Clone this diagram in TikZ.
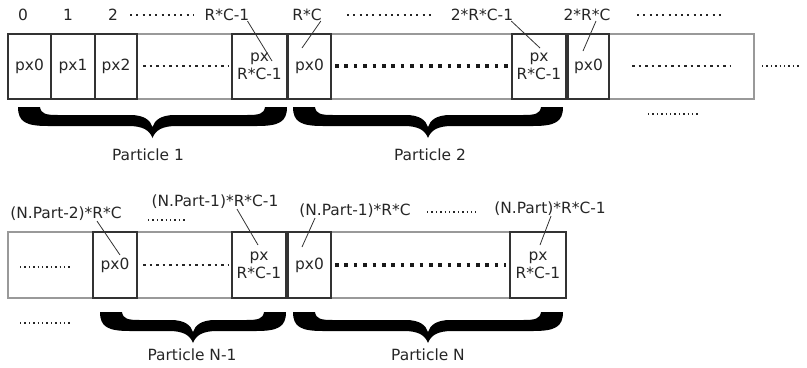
\documentclass[tikz,border=0pt]{standalone}
\usepackage{fontspec}
\setmainfont{DejaVu Sans}
\begin{document}
\begin{tikzpicture}[x=1bp,y=-1bp,
  every node/.style={font=\fontsize{15.5}{18.5}\selectfont, inner sep=0pt, text=black!85},
  cell/.style={draw=black!80, line width=1.7bp, minimum height=65bp, align=center},
  frame/.style={draw=black!40, line width=1.1bp},
  lead/.style={draw=black!80, line width=0.8bp},
  dsmall/.style={line width=2bp, dash pattern=on 2bp off 4.3bp, black!85},
  dmed/.style={line width=2.5bp, dash pattern=on 2.5bp off 4bp, black!85},
  dthick/.style={line width=3.6bp, dash pattern=on 3.6bp off 5.8bp, black!90},
  dtiny/.style={line width=1.4bp, dash pattern=on 1.4bp off 3bp, black!85},
  pbrace/.style={fill=black, draw=none},
]
\newcommand\drawpbrace[3]{% left x, right x, top y
  \fill[pbrace] (#1,#3) -- ({#1+22},#3)
    .. controls ({#1+23},{#3+7}) and ({#1+28},{#3+8}) .. ({#1+40},{#3+8})
    -- ({(#1+#2)/2-22},{#3+8})
    .. controls ({(#1+#2)/2-9},{#3+8}) and ({(#1+#2)/2-2},{#3+13}) .. ({(#1+#2)/2},{#3+20})
    .. controls ({(#1+#2)/2+2},{#3+13}) and ({(#1+#2)/2+9},{#3+8}) .. ({(#1+#2)/2+22},{#3+8})
    -- ({#2-40},{#3+8})
    .. controls ({#2-28},{#3+8}) and ({#2-23},{#3+7}) .. ({#2-22},#3)
    -- (#2,#3)
    .. controls (#2,{#3+15}) and ({#2-8},{#3+19}) .. ({#2-30},{#3+19})
    -- ({(#1+#2)/2+24},{#3+19})
    .. controls ({(#1+#2)/2+10},{#3+19}) and ({(#1+#2)/2+3},{#3+23}) .. ({(#1+#2)/2},{#3+31})
    .. controls ({(#1+#2)/2-3},{#3+23}) and ({(#1+#2)/2-10},{#3+19}) .. ({(#1+#2)/2-24},{#3+19})
    -- ({#1+30},{#3+19})
    .. controls ({#1+8},{#3+19}) and (#1,{#3+15}) .. (#1,#3) -- cycle;}
\useasboundingbox (0,0) rectangle (807,367);

% ---------- top row ----------
\draw[frame] (8,34) rectangle (754,99);
\node[cell, minimum width=43bp] (c0) at (29.5,66.5) {px0};
\node[cell, minimum width=44bp] (c1) at (73,66.5) {px1};
\node[cell, minimum width=42bp] (c2) at (116,66.5) {px2};
\node[cell, minimum width=55bp] (cA) at (259.5,66.5) {px\\R*C-1};
\node[cell, minimum width=43bp] (cB) at (309.5,66.5) {px0};
\node[cell, minimum width=54bp] (cC) at (539,66.5) {px\\R*C-1};
\node[cell, minimum width=41bp] (cD) at (588.5,66.5) {px0};

\draw[dmed] (143,66) -- (228,66);
\draw[dthick] (335,66) -- (508,66);
\draw[dmed] (632,66) -- (731,66);
\draw[dtiny] (762,66) -- (801,66);
\draw[dtiny] (648,114) -- (699,114);

% top labels
\node (t0) at (23,15) {0};
\node (t1) at (68,15) {1};
\node (t2) at (113,15) {2};
\draw[dsmall] (130,15) -- (194,15);
\node (tRC1) at (227,15) {R*C-1};
\node (tRC) at (307,15) {R*C};
\draw[dsmall] (347,15) -- (433,15);
\node (t2RC1) at (482,15) {2*R*C-1};
\node (t2RC) at (587,15) {2*R*C};
\draw[dsmall] (637,15) -- (721,15);

\coordinate (eA) at (272,61);
\coordinate (eB) at (302,48);
\coordinate (eC) at (540,48);
\coordinate (eD) at (583,51);
\draw[lead] ([xshift=-2bp]tRC1.south east) -- (eA);
\draw[lead] ([xshift=-1bp]tRC.south east) -- (eB);
\draw[lead] ([xshift=-2bp]t2RC1.south east) -- (eC);
\draw[lead] ([xshift=9bp]t2RC.south) -- (eD);

% braces top
\drawpbrace{18}{287}{107}
\node (p1) at (148,155) {Particle 1};
\drawpbrace{293}{563}{107}
\node (p2) at (430,155) {Particle 2};

% ---------- bottom row ----------
\draw[frame] (8,232) rectangle (566,298);
\node[cell, minimum width=44bp, minimum height=66bp] (d0) at (115,265) {px0};
\node[cell, minimum width=54bp, minimum height=66bp] (dA) at (259,265) {px\\R*C-1};
\node[cell, minimum width=43bp, minimum height=66bp] (dB) at (309.5,265) {px0};
\node[cell, minimum width=56bp, minimum height=66bp] (dC) at (538,265) {px\\R*C-1};

\draw[dtiny] (20,267) -- (71,267);
\draw[dtiny] (20,323) -- (71,323);
\draw[dmed] (143,265) -- (228,265);
\draw[dthick] (335,265) -- (506,265);

\node (bNm2) at (66,214) {(N.Part-2)*R*C};
\node (bNm1a) at (215,202) {(N.Part-1)*R*C-1};
\draw[dtiny] (148,220) -- (186,220);
\node (bNm1b) at (355,211) {(N.Part-1)*R*C};
\draw[dtiny] (427,212) -- (476,212);
\node (bN) at (550,209) {(N.Part)*R*C-1};

\coordinate (fA) at (120,255);
\coordinate (fB) at (258,245);
\coordinate (fC) at (302,247);
\coordinate (fD) at (540,245);
\draw[lead] ([xshift=31bp]bNm2.south) -- (fA);
\draw[lead] ([xshift=22bp]bNm1a.south) -- (fB);
\draw[lead] ([xshift=-40bp]bNm1b.south) -- (fC);
\draw[lead] ([xshift=1bp]bN.south) -- (fD);

% braces bottom
\drawpbrace{100}{286}{312}
\node (pN1) at (192,355) {Particle N-1};
\drawpbrace{293}{563}{312}
\node (pN) at (428,355) {Particle N};
\end{tikzpicture}
\end{document}
